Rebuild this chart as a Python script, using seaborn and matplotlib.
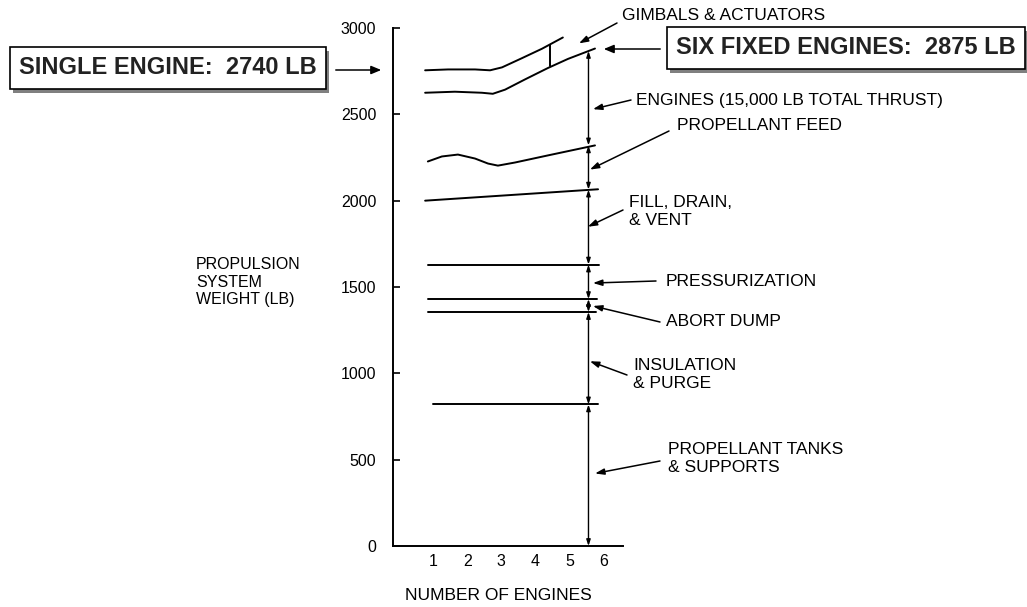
import numpy as np
import pandas as pd
import matplotlib
matplotlib.use("Agg")
import matplotlib.pyplot as plt
import matplotlib.patches as mpatches
import seaborn as sns

# boundary curves (x = number of engines, y = weight in lb)
gimbal_x = [0.77, 1.44, 2.23, 2.67, 3.02, 3.60, 4.19, 4.80]
gimbal_y = [2755, 2760, 2760, 2755, 2772, 2825, 2880, 2945]

engine_x = [0.77, 1.64, 2.43, 2.75, 3.11, 3.69, 4.36, 4.95, 5.74]
engine_y = [2625, 2631, 2625, 2619, 2643, 2702, 2768, 2821, 2881]

feed_x = [0.85, 1.26, 1.73, 2.23, 2.61, 2.90, 3.40, 4.36, 5.74]
feed_y = [2227, 2256, 2267, 2244, 2215, 2203, 2221, 2262, 2320]

fill_x = [0.77, 5.83]
fill_y = [2000, 2066]

flat_names = ["pressurization", "abort_top", "abort_bottom", "insulation"]
flat_start = [0.85, 0.85, 0.85, 1.0]
flat_end = [5.85, 5.80, 5.77, 5.82]
flat_level = [1630, 1430, 1355, 820]

gimbal_tick_x = [4.42, 4.42]
gimbal_tick_y = [2778, 2903]

dim_x = 5.55
dim_levels = [0, 820, 1355, 1430, 1630, 2064, 2320, 2867]

x_ticks = [1, 2, 3, 4, 5, 6]
y_ticks = [0, 500, 1000, 1500, 2000, 2500, 3000]

# right-side labels: text, text pos (px), arrow start (px), arrow target (data)
labels = [
    ("GIMBALS & ACTUATORS", (622, 16), (617, 23), (5.27, 2911)),
    ("ENGINES (15,000 LB TOTAL THRUST)", (636, 100), (631, 100), (5.68, 2530)),
    ("PROPELLANT FEED", (677, 126), (669, 131), (5.59, 2180)),
    ("FILL, DRAIN,\n& VENT", (629, 211), (623, 210), (5.53, 1849)),
    ("PRESSURIZATION", (666, 281), (656, 281), (5.68, 1523)),
    ("ABORT DUMP", (666, 322), (660, 322), (5.68, 1390)),
    ("INSULATION\n& PURGE", (633, 375), (627, 375), (5.59, 1070)),
    ("PROPELLANT TANKS\n& SUPPORTS", (668, 458), (660, 461), (5.74, 420)),
]

W, H = 1027, 607


def px(x, y):
    return (x / W, 1 - y / H)


sns.set_theme(style="white")
plt.rcParams["font.family"] = ["Liberation Sans", "DejaVu Sans"]

fig = plt.figure(figsize=(W / 100, H / 100), dpi=100)
ax = fig.add_axes([393 / W, 1 - 546 / H, (623 - 393) / W, (546 - 28) / H])

lw = 1.4
for xs, ys in [(gimbal_x, gimbal_y), (engine_x, engine_y), (feed_x, feed_y),
               (fill_x, fill_y), (gimbal_tick_x, gimbal_tick_y)]:
    sns.lineplot(x=xs, y=ys, ax=ax, color="black", linewidth=lw,
                 sort=False, estimator=None)

flat = pd.DataFrame({"name": flat_names, "x0": flat_start, "x1": flat_end, "y": flat_level})
for _, r in flat.iterrows():
    sns.lineplot(x=[r.x0, r.x1], y=[r.y, r.y], ax=ax, color="black",
                 linewidth=lw, estimator=None)

# dimension line with arrows between each boundary
for lo, hi in zip(dim_levels[:-1], dim_levels[1:]):
    ax.annotate("", xy=(dim_x, hi), xytext=(dim_x, lo),
                arrowprops=dict(arrowstyle="<|-|>,head_length=0.3,head_width=0.1",
                                color="black", lw=1.0, shrinkA=0, shrinkB=0))

ax.set_xlim(-0.17, 6.56)
ax.set_ylim(0, 3000)
ax.set_xticks(x_ticks)
ax.set_yticks(y_ticks)
ax.set_xticklabels([str(t) for t in x_ticks])
ax.set_yticklabels([str(t) for t in y_ticks])
ax.tick_params(axis="y", direction="in", length=5, width=1.2, pad=12,
               labelsize=11.5, colors="black", left=True)
ax.tick_params(axis="x", length=0, pad=6, labelsize=11.5, colors="black")
for s in ["top", "right"]:
    ax.spines[s].set_visible(False)
for s in ["left", "bottom"]:
    ax.spines[s].set_color("black")
    ax.spines[s].set_linewidth(1.4)
ax.set_xlabel("")
ax.set_ylabel("")
ax.patch.set_alpha(0)

# label annotations
for text, tpos, apos, target in labels:
    fig.text(*px(*tpos), text, ha="left", va="center", fontsize=12.5,
             linespacing=1.25, color="black")
    ax.annotate("", xy=target, xycoords="data", xytext=px(*apos),
                textcoords="figure fraction",
                arrowprops=dict(arrowstyle="-|>,head_length=0.45,head_width=0.15",
                                color="black", lw=1.1, shrinkA=0, shrinkB=0))

# boxed totals
boxes = []
for x, y, text in [(168, 68, "SINGLE ENGINE:  2740 LB"),
                   (846, 48, "SIX FIXED ENGINES:  2875 LB")]:
    t = fig.text(*px(x, y), text, ha="center", va="center", fontsize=17,
                 fontweight="bold", color="#222222", zorder=5,
                 bbox=dict(boxstyle="square,pad=0.4", fc="white", ec="black", lw=1.2))
    boxes.append(t)

# gray drop shadow behind each box
fig.canvas.draw()
inv = fig.transFigure.inverted()
for t in boxes:
    bb = t.get_bbox_patch().get_window_extent()
    (x0, y0), (x1, y1) = inv.transform([(bb.x0 + 3, bb.y0 - 4), (bb.x1 + 3, bb.y1 - 4)])
    fig.add_artist(mpatches.Rectangle((x0, y0), x1 - x0, y1 - y0,
                                      transform=fig.transFigure, fc="#808080",
                                      ec="none", zorder=4))

fig.add_artist(mpatches.FancyArrowPatch(
    px(333, 70), px(384, 70), transform=fig.transFigure,
    arrowstyle="-|>,head_length=6,head_width=2.5", color="black", lw=1.1))
fig.add_artist(mpatches.FancyArrowPatch(
    px(663, 49), px(601, 49), transform=fig.transFigure,
    arrowstyle="-|>,head_length=6,head_width=2.5", color="black", lw=1.1))

fig.text(*px(196, 282), "PROPULSION\nSYSTEM\nWEIGHT (LB)", ha="left", va="center",
         fontsize=11.5, linespacing=1.2, color="black")
fig.text(*px(498, 596), "NUMBER OF ENGINES", ha="center", va="center",
         fontsize=12.5, color="black")

fig.savefig("out.png", dpi=100)
